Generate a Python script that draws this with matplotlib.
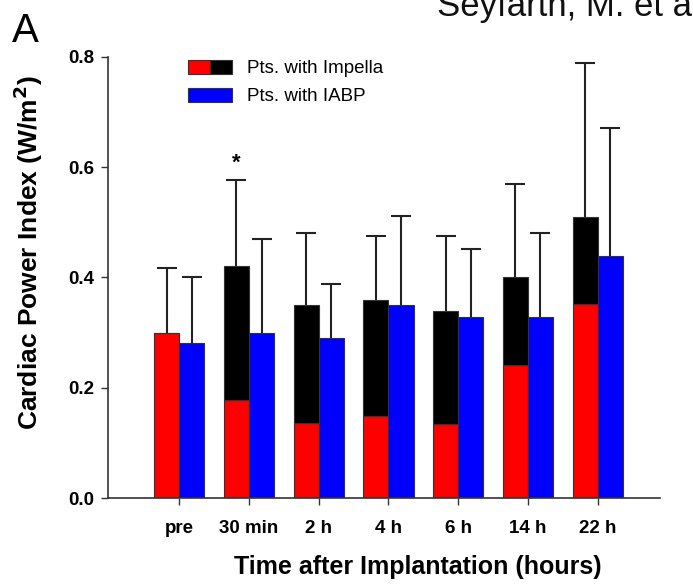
import numpy as np
import matplotlib
matplotlib.use("Agg")
import matplotlib.pyplot as plt
from matplotlib.patches import Patch
from matplotlib.legend_handler import HandlerTuple

plt.rcParams['font.family'] = ['Liberation Sans', 'DejaVu Sans']

times = ["pre", "30 min", "2 h", "4 h", "6 h", "14 h", "22 h"]
impella_total = [0.30, 0.42, 0.35, 0.36, 0.34, 0.40, 0.51]
impella_red = [0.30, 0.178, 0.136, 0.149, 0.134, 0.241, 0.352]
impella_err = [0.117, 0.157, 0.131, 0.116, 0.136, 0.17, 0.278]
iabp = [0.281, 0.30, 0.29, 0.35, 0.328, 0.329, 0.439]
iabp_err = [0.12, 0.17, 0.098, 0.162, 0.124, 0.151, 0.232]

x = np.arange(len(times))
w = 0.36
impella_black = np.array(impella_total) - np.array(impella_red)

fig = plt.figure(figsize=(6.93, 5.86), dpi=100)
ax = fig.add_axes([0.156, 0.150, 0.796, 0.753])

ekw = dict(ecolor="#222222", elinewidth=1.5, capsize=7, capthick=1.5, fmt="none", zorder=1)
for xs, ys, es in [(x - w / 2, impella_total, impella_err), (x + w / 2, iabp, iabp_err)]:
    eb = ax.errorbar(xs, ys, yerr=[np.zeros(len(x)), es], **ekw)
    # upward-only bars: hide the cap at the bar top
    eb[1][0].set_visible(False)

ax.bar(x - w / 2, impella_red, width=w, color="#ff0000", edgecolor="#333333", linewidth=0.8, zorder=2)
ax.bar(x - w / 2, impella_black, width=w, bottom=impella_red, color="black",
       edgecolor="#333333", linewidth=0.8, zorder=2)
ax.bar(x + w / 2, iabp, width=w, color="#0000ff", edgecolor="#333333", linewidth=0.8, zorder=2)

ax.text(1 - w / 2, impella_total[1] + impella_err[1] + 0.012, "*", ha="center", va="bottom",
        fontsize=16, fontweight="bold")

ax.set_xlim(-1.02, 6.89)
ax.set_ylim(0, 0.8)
ax.set_xticks(x)
ax.set_xticklabels(times, fontsize=13.5, fontweight="bold")
ax.set_yticks([0.0, 0.2, 0.4, 0.6, 0.8])
ax.set_yticklabels(["0.0", "0.2", "0.4", "0.6", "0.8"], fontsize=13.5, fontweight="bold")
ax.tick_params(axis="both", direction="out", length=5, width=1, color="#333333", pad=5)
ax.tick_params(axis="x", pad=11)
for s in ["top", "right"]:
    ax.spines[s].set_visible(False)
for s in ["left", "bottom"]:
    ax.spines[s].set_linewidth(1.2)
    ax.spines[s].set_color("#333333")

ax.set_xlabel("Time after Implantation (hours)", fontsize=18, fontweight="bold")
ax.xaxis.set_label_coords(0.562, -0.13)
ax.set_ylabel("Cardiac Power Index (W/m$^\\mathbf{2}$)", fontsize=19, fontweight="bold")
ax.yaxis.set_label_coords(-0.114, 0.556)

h_imp = (Patch(facecolor="#ff0000", edgecolor="#333333", linewidth=0.8),
         Patch(facecolor="black", edgecolor="#333333", linewidth=0.8))
h_iabp = Patch(facecolor="#0000ff", edgecolor="#333333", linewidth=0.8)
ax.legend([h_imp, h_iabp], ["Pts. with Impella", "Pts. with IABP"],
          handler_map={tuple: HandlerTuple(ndivide=None, pad=0)},
          loc="upper left", bbox_to_anchor=(0.115, 1.032), frameon=False, fontsize=13.5,
          handlelength=2.3, handleheight=0.8, handletextpad=0.8, labelspacing=0.55)

fig.text(0.017, 0.928, "A", fontsize=29)
fig.text(0.63, 0.973, "Seyfarth, M. et al", fontsize=25, va="baseline", color="#111111")

fig.savefig("out.png", dpi=100)
